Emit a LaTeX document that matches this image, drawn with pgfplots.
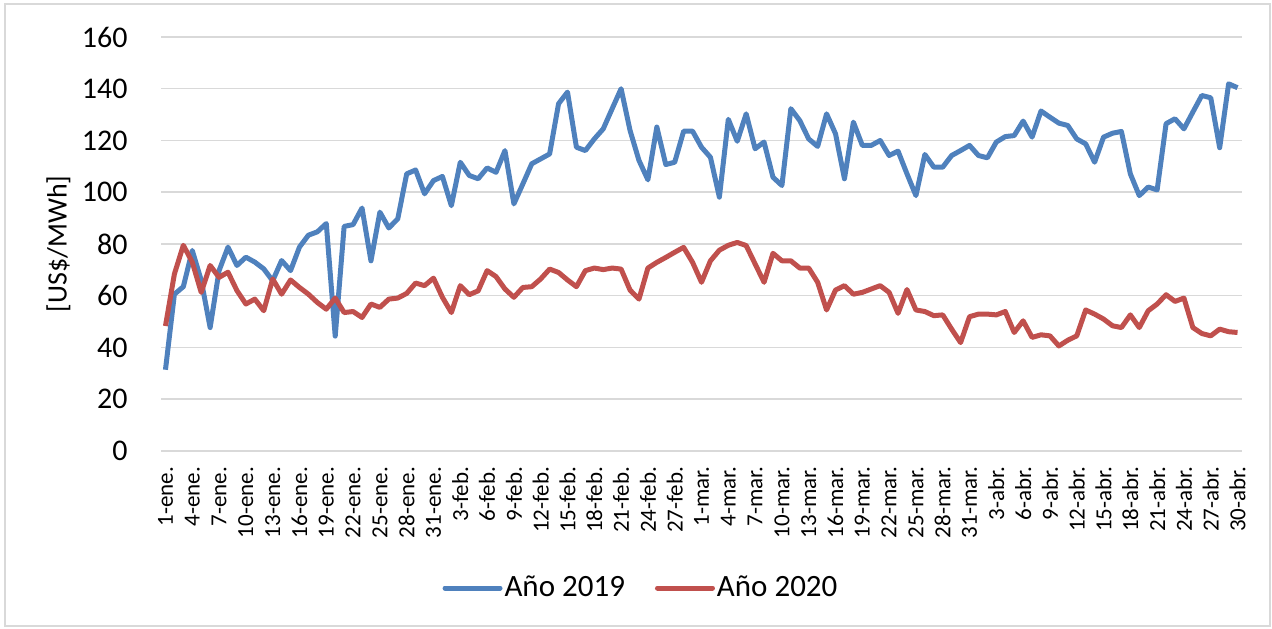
\documentclass[border=0pt]{standalone}
\usepackage{fontspec}
\setmainfont{Carlito}
\usepackage{pgfplots}
\usepackage{pgfplotstable}
\pgfplotsset{compat=1.18}

\definecolor{azul}{HTML}{4F81BD}
\definecolor{rojo}{HTML}{C0504D}
\definecolor{rejilla}{HTML}{D9D9D9}

% precio diario, indice 0 = 1-ene ... 120 = 30-abr
\pgfplotstableread{
d   a2019  a2020
0   31.4   48.3
1   60.6   68.4
2   63.5   79.5
3   77.5   73.0
4   66.0   61.3
5   47.7   71.7
6   69.7   67.1
7   78.8   69.1
8   71.7   62.0
9   74.9   56.8
10  73.0   58.7
11  70.4   54.2
12  65.8   66.5
13  73.6   60.6
14  69.7   66.1
15  78.8   63.2
16  83.4   60.6
17  84.7   57.4
18  87.9   54.8
19  44.4   59.1
20  86.8   53.5
21  87.5   53.9
22  93.9   51.6
23  73.5   56.8
24  92.3   55.5
25  86.2   58.7
26  89.7   59.1
27  107.1  60.9
28  108.6  64.9
29  99.4   63.9
30  104.5  66.8
31  106.1  59.4
32  94.8   53.5
33  111.6  63.9
34  106.5  60.4
35  105.2  61.9
36  109.4  69.7
37  107.7  67.4
38  116.1  62.6
39  95.5   59.4
40  103.2  63.2
41  111.0  63.5
42  112.9  66.5
43  114.8  70.3
44  134.2  69.0
45  138.7  66.1
46  117.4  63.5
47  116.1  69.7
48  120.6  70.7
49  124.5  70.1
50  132.3  70.7
51  140.0  70.3
52  123.9  62.2
53  112.3  58.7
54  104.8  70.7
55  125.2  72.9
56  110.7  74.8
57  111.6  76.8
58  123.6  78.7
59  123.6  72.9
60  117.4  65.2
61  113.5  73.5
62  98.1   77.6
63  128.2  79.5
64  119.7  80.6
65  130.3  79.4
66  116.8  72.3
67  119.4  65.2
68  105.8  76.4
69  102.6  73.5
70  132.3  73.5
71  127.7  70.7
72  120.6  70.7
73  117.7  65.2
74  130.3  54.5
75  122.6  62.2
76  105.2  63.9
77  127.1  60.6
78  118.1  61.3
79  118.1  62.6
80  120.0  63.9
81  114.2  61.3
82  115.9  53.2
83  107.1  62.4
84  98.7   54.5
85  114.6  53.9
86  109.7  52.3
87  109.7  52.6
88  114.2  47.1
89  116.1  41.9
90  118.1  51.9
91  114.2  52.9
92  113.3  52.9
93  119.4  52.6
94  121.5  53.9
95  121.9  45.8
96  127.5  50.3
97  121.3  43.9
98  131.4  44.9
99  129.0  44.5
100 126.7  40.6
101 125.8  42.8
102 120.6  44.5
103 118.7  54.5
104 111.6  52.9
105 121.3  51.0
106 122.8  48.4
107 123.5  47.7
108 107.1  52.6
109 98.7   47.7
110 102.0  54.2
111 100.9  56.8
112 126.5  60.4
113 128.4  57.8
114 124.5  59.1
115 131.0  47.7
116 137.4  45.4
117 136.5  44.5
118 117.2  47.1
119 141.9  46.1
120 140.4  45.8
}\precios

\begin{document}
\begin{tikzpicture}
\begin{axis}[
  name=ax,
  scale only axis,
  width=540.5pt, height=207pt,
  xmin=-0.5, xmax=120.5,
  ymin=0, ymax=160,
  ytick={0,20,...,160},
  xtick={0,3,...,120},
  xticklabels={1-ene.,4-ene.,7-ene.,10-ene.,13-ene.,16-ene.,19-ene.,22-ene.,25-ene.,28-ene.,31-ene.,3-feb.,6-feb.,9-feb.,12-feb.,15-feb.,18-feb.,21-feb.,24-feb.,27-feb.,1-mar.,4-mar.,7-mar.,10-mar.,13-mar.,16-mar.,19-mar.,22-mar.,25-mar.,28-mar.,31-mar.,3-abr.,6-abr.,9-abr.,12-abr.,15-abr.,18-abr.,21-abr.,24-abr.,27-abr.,30-abr.},
  axis line style={draw=none},
  major tick length=0pt,
  ymajorgrids,
  grid style={rejilla, line width=0.75pt},
  /pgf/number format/assume math mode=true,
  yticklabel style={font=\fontsize{15}{18}\selectfont, inner sep=0pt, xshift=-16.5pt, anchor=east},
  xticklabel style={font=\fontsize{11.5}{13}\selectfont, rotate=90, anchor=east, inner sep=0pt},
  xticklabel shift=7.8pt,
  ylabel={[US\$/MWh]},
  ylabel style={font=\fontsize{14}{16}\selectfont, at={(axis description cs:-0.0948,0.5)}, anchor=center, rotate=0},
  legend columns=2,
  legend style={draw=none, fill=none, font=\fontsize{15.5}{18}\selectfont,
    at={(axis description cs:0.444,-0.331)}, anchor=center,
    /tikz/every even column/.append style={column sep=14pt},
    nodes={inner sep=1pt}},
  legend image code/.code={\draw[#1, line cap=round] (0pt,0pt) -- (27.5pt,0pt);},
  clip=false,
]
\addplot[azul, line width=2.5pt, line join=round] table[x=d, y=a2019] {\precios};
\addlegendentry{Año 2019}
\addplot[rojo, line width=2.5pt, line join=round] table[x=d, y=a2020] {\precios};
\addlegendentry{Año 2020}
\end{axis}
\draw[rejilla, line width=0.75pt] ([shift={(-78pt,-87.5pt)}]ax.south west) rectangle ([shift={(14pt,16.5pt)}]ax.north east);
\pgfresetboundingbox
\path ([shift={(-80.5pt,-89pt)}]ax.south west) rectangle ([shift={(15pt,18.5pt)}]ax.north east);
\end{tikzpicture}
\end{document}
